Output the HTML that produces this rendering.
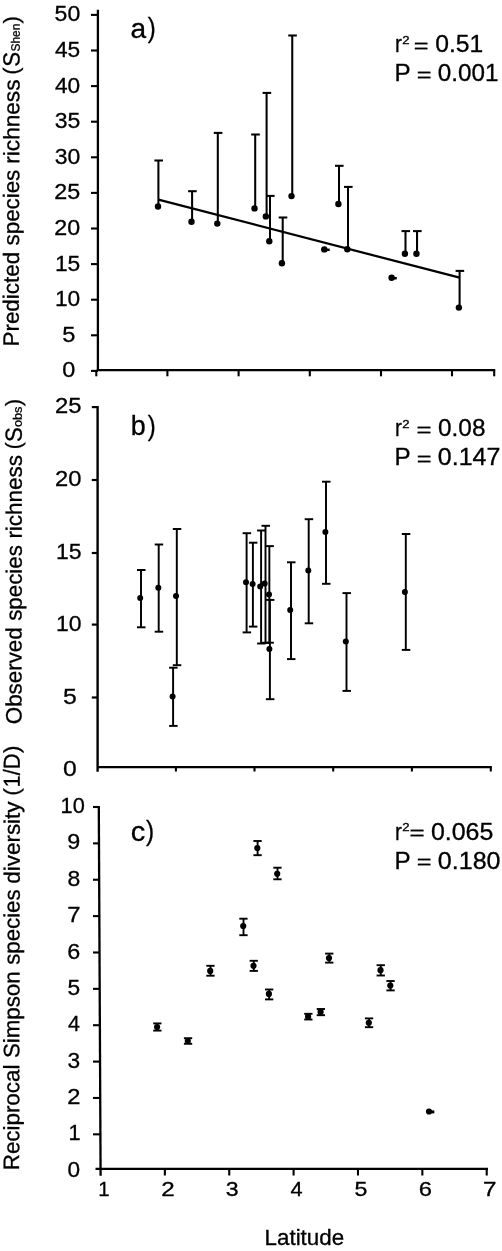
<!DOCTYPE html>
<html lang="en"><head><meta charset="utf-8"><title>Figure</title>
<style>
html,body{margin:0;padding:0;background:#fff;}
svg{display:block;filter:blur(0.45px);}
svg text{font-family:"Liberation Sans", sans-serif;fill:#000;stroke:#000;stroke-width:0.3px;}
svg line{stroke:#000;}
svg circle{fill:#000;}
</style></head><body>
<svg width="502" height="1251" viewBox="0 0 502 1251">
<rect x="0" y="0" width="502" height="1251" fill="#ffffff"/>
<line x1="97.90" y1="9.80" x2="97.90" y2="371.10" stroke-width="2.3"/>
<line x1="96.80" y1="370.10" x2="495.20" y2="370.10" stroke-width="2.2"/>
<line x1="91.00" y1="14.90" x2="97.90" y2="14.90" stroke-width="2.1"/>
<line x1="91.00" y1="50.50" x2="97.90" y2="50.50" stroke-width="2.1"/>
<line x1="91.00" y1="86.10" x2="97.90" y2="86.10" stroke-width="2.1"/>
<line x1="91.00" y1="121.70" x2="97.90" y2="121.70" stroke-width="2.1"/>
<line x1="91.00" y1="157.30" x2="97.90" y2="157.30" stroke-width="2.1"/>
<line x1="91.00" y1="192.90" x2="97.90" y2="192.90" stroke-width="2.1"/>
<line x1="91.00" y1="228.50" x2="97.90" y2="228.50" stroke-width="2.1"/>
<line x1="91.00" y1="264.10" x2="97.90" y2="264.10" stroke-width="2.1"/>
<line x1="91.00" y1="299.70" x2="97.90" y2="299.70" stroke-width="2.1"/>
<line x1="91.00" y1="335.30" x2="97.90" y2="335.30" stroke-width="2.1"/>
<line x1="91.00" y1="370.90" x2="97.90" y2="370.90" stroke-width="2.1"/>
<line x1="96.30" y1="370.10" x2="96.30" y2="376.30" stroke-width="2.1"/>
<line x1="167.40" y1="370.10" x2="167.40" y2="376.30" stroke-width="2.1"/>
<line x1="238.60" y1="370.10" x2="238.60" y2="376.30" stroke-width="2.1"/>
<line x1="309.80" y1="370.10" x2="309.80" y2="376.30" stroke-width="2.1"/>
<line x1="381.00" y1="370.10" x2="381.00" y2="376.30" stroke-width="2.1"/>
<line x1="452.00" y1="370.10" x2="452.00" y2="376.30" stroke-width="2.1"/>
<line x1="494.20" y1="370.10" x2="494.20" y2="376.30" stroke-width="2.1"/>
<text transform="translate(54.58,21.30) scale(1.0430,1.0000)" font-size="22.1">50</text>
<text transform="translate(54.99,56.90) scale(1.0281,1.0000)" font-size="22.1">45</text>
<text transform="translate(54.99,92.50) scale(1.0256,1.0000)" font-size="22.1">40</text>
<text transform="translate(54.64,128.10) scale(1.0430,1.0000)" font-size="22.1">35</text>
<text transform="translate(54.64,163.70) scale(1.0405,1.0000)" font-size="22.1">30</text>
<text transform="translate(54.33,199.30) scale(1.0558,1.0000)" font-size="22.1">25</text>
<text transform="translate(54.34,234.90) scale(1.0532,1.0000)" font-size="22.1">20</text>
<text transform="translate(54.89,270.50) scale(1.0323,1.0000)" font-size="22.1">15</text>
<text transform="translate(54.89,306.10) scale(1.0297,1.0000)" font-size="22.1">10</text>
<text transform="translate(62.26,341.70) scale(1.0669,1.0000)" font-size="22.1">5</text>
<text transform="translate(62.26,377.30) scale(1.0613,1.0000)" font-size="22.1">0</text>
<text transform="translate(130.61,37.50) scale(1.0071,1.0000)" font-size="27.9">a</text>
<text transform="translate(147.72,36.80) scale(0.8856,1.0000)" font-size="27.1">)</text>
<text transform="translate(394.90,52.20) scale(0.8927,1.0000)" font-size="23.3">r</text>
<text transform="translate(402.34,44.10) scale(1.1175,1.0000)" font-size="11.8">2</text>
<text transform="translate(413.83,52.70) scale(1.2371,1.0000)" font-size="20.5">=</text>
<text transform="translate(435.21,52.20) scale(1.0605,1.0000)" font-size="23.3">0.51</text>
<text transform="translate(394.50,81.20) scale(1.0397,1.0000)" font-size="23.3">P</text>
<text transform="translate(416.83,81.70) scale(1.2371,1.0000)" font-size="20.5">=</text>
<text transform="translate(437.83,81.20) scale(1.0432,1.0000)" font-size="23.3">0.001</text>
<line x1="158.40" y1="160.50" x2="158.40" y2="206.50" stroke-width="2.05"/>
<line x1="154.40" y1="160.50" x2="163.00" y2="160.50" stroke-width="2.05"/>
<circle cx="158.00" cy="206.50" r="3.2"/>
<line x1="192.10" y1="191.20" x2="192.10" y2="221.70" stroke-width="2.05"/>
<line x1="188.10" y1="191.20" x2="196.70" y2="191.20" stroke-width="2.05"/>
<circle cx="191.50" cy="221.70" r="3.2"/>
<line x1="217.80" y1="132.90" x2="217.80" y2="223.60" stroke-width="2.05"/>
<line x1="213.80" y1="132.90" x2="222.40" y2="132.90" stroke-width="2.05"/>
<circle cx="217.30" cy="223.60" r="3.2"/>
<line x1="255.20" y1="134.50" x2="255.20" y2="208.40" stroke-width="2.05"/>
<line x1="251.20" y1="134.50" x2="259.80" y2="134.50" stroke-width="2.05"/>
<circle cx="254.50" cy="208.40" r="3.2"/>
<line x1="266.60" y1="92.90" x2="266.60" y2="216.40" stroke-width="2.05"/>
<line x1="262.60" y1="92.90" x2="271.20" y2="92.90" stroke-width="2.05"/>
<circle cx="265.85" cy="216.40" r="3.2"/>
<line x1="270.00" y1="195.90" x2="270.00" y2="241.20" stroke-width="2.05"/>
<line x1="266.00" y1="195.90" x2="274.60" y2="195.90" stroke-width="2.05"/>
<circle cx="269.30" cy="241.20" r="3.2"/>
<line x1="282.70" y1="217.50" x2="282.70" y2="263.30" stroke-width="2.05"/>
<line x1="278.70" y1="217.50" x2="287.30" y2="217.50" stroke-width="2.05"/>
<circle cx="281.90" cy="263.30" r="3.2"/>
<line x1="292.25" y1="35.50" x2="292.25" y2="196.10" stroke-width="2.05"/>
<line x1="288.25" y1="35.50" x2="296.85" y2="35.50" stroke-width="2.05"/>
<circle cx="291.50" cy="196.10" r="3.2"/>
<line x1="339.00" y1="165.80" x2="339.00" y2="204.00" stroke-width="2.05"/>
<line x1="335.00" y1="165.80" x2="343.60" y2="165.80" stroke-width="2.05"/>
<circle cx="338.40" cy="204.00" r="3.2"/>
<line x1="348.00" y1="186.90" x2="348.00" y2="249.20" stroke-width="2.05"/>
<line x1="344.00" y1="186.90" x2="352.60" y2="186.90" stroke-width="2.05"/>
<circle cx="347.30" cy="249.20" r="3.2"/>
<line x1="405.50" y1="231.10" x2="405.50" y2="253.70" stroke-width="2.05"/>
<line x1="401.50" y1="231.10" x2="410.10" y2="231.10" stroke-width="2.05"/>
<circle cx="404.90" cy="253.70" r="3.2"/>
<line x1="417.05" y1="231.10" x2="417.05" y2="253.70" stroke-width="2.05"/>
<line x1="413.05" y1="231.10" x2="421.65" y2="231.10" stroke-width="2.05"/>
<circle cx="416.45" cy="253.70" r="3.2"/>
<line x1="459.60" y1="270.90" x2="459.60" y2="307.60" stroke-width="2.05"/>
<line x1="455.60" y1="270.90" x2="464.20" y2="270.90" stroke-width="2.05"/>
<circle cx="458.90" cy="307.60" r="3.2"/>
<circle cx="324.30" cy="249.40" r="3.2"/>
<line x1="321.50" y1="249.80" x2="329.70" y2="249.80" stroke-width="2.5"/>
<circle cx="391.60" cy="277.70" r="3.2"/>
<line x1="389.00" y1="278.20" x2="396.80" y2="278.20" stroke-width="2.5"/>
<line x1="158.40" y1="199.60" x2="459.60" y2="277.70" stroke-width="2.25"/>
<line x1="97.60" y1="405.90" x2="97.60" y2="771.70" stroke-width="2.4"/>
<line x1="97.60" y1="767.10" x2="491.80" y2="767.10" stroke-width="2.3"/>
<line x1="91.80" y1="407.10" x2="97.60" y2="407.10" stroke-width="2.2"/>
<line x1="91.80" y1="480.00" x2="97.60" y2="480.00" stroke-width="2.2"/>
<line x1="91.80" y1="553.00" x2="97.60" y2="553.00" stroke-width="2.2"/>
<line x1="91.80" y1="624.60" x2="97.60" y2="624.60" stroke-width="2.2"/>
<line x1="91.80" y1="697.50" x2="97.60" y2="697.50" stroke-width="2.2"/>
<line x1="175.90" y1="767.10" x2="175.90" y2="771.50" stroke-width="2.1"/>
<line x1="254.50" y1="767.10" x2="254.50" y2="771.50" stroke-width="2.1"/>
<line x1="333.20" y1="767.10" x2="333.20" y2="771.50" stroke-width="2.1"/>
<line x1="411.90" y1="767.10" x2="411.90" y2="771.50" stroke-width="2.1"/>
<line x1="490.80" y1="767.10" x2="490.80" y2="771.50" stroke-width="2.1"/>
<text transform="translate(55.11,413.30) scale(1.0731,1.0000)" font-size="22.2">25</text>
<text transform="translate(55.11,485.90) scale(1.0705,1.0000)" font-size="22.2">20</text>
<text transform="translate(55.97,558.50) scale(1.0367,1.0000)" font-size="22.2">15</text>
<text transform="translate(55.98,631.10) scale(1.0341,1.0000)" font-size="22.2">10</text>
<text transform="translate(63.01,703.70) scale(1.1190,1.0000)" font-size="22.2">5</text>
<text transform="translate(63.01,776.30) scale(1.1132,1.0000)" font-size="22.2">0</text>
<text transform="translate(130.65,435.40) scale(0.9849,1.0000)" font-size="27.3">b</text>
<text transform="translate(147.72,434.70) scale(0.8856,1.0000)" font-size="27.1">)</text>
<text transform="translate(394.90,436.10) scale(0.8927,1.0000)" font-size="23.3">r</text>
<text transform="translate(402.34,428.00) scale(1.1175,1.0000)" font-size="11.8">2</text>
<text transform="translate(416.61,436.60) scale(1.2572,1.0000)" font-size="20.5">=</text>
<text transform="translate(438.02,436.10) scale(1.0462,1.0000)" font-size="23.3">0.08</text>
<text transform="translate(394.50,465.30) scale(1.0397,1.0000)" font-size="23.3">P</text>
<text transform="translate(416.83,465.80) scale(1.2371,1.0000)" font-size="20.5">=</text>
<text transform="translate(437.80,465.30) scale(1.0727,1.0000)" font-size="23.3">0.147</text>
<line x1="141.00" y1="570.00" x2="141.00" y2="627.30" stroke-width="1.95"/>
<line x1="137.00" y1="570.00" x2="145.50" y2="570.00" stroke-width="1.95"/>
<line x1="137.00" y1="627.30" x2="145.50" y2="627.30" stroke-width="1.95"/>
<circle cx="140.20" cy="597.90" r="3.0"/>
<line x1="158.70" y1="544.50" x2="158.70" y2="631.70" stroke-width="1.95"/>
<line x1="154.70" y1="544.50" x2="163.20" y2="544.50" stroke-width="1.95"/>
<line x1="154.70" y1="631.70" x2="163.20" y2="631.70" stroke-width="1.95"/>
<circle cx="158.30" cy="587.80" r="3.0"/>
<line x1="176.80" y1="529.00" x2="176.80" y2="665.20" stroke-width="1.95"/>
<line x1="172.80" y1="529.00" x2="181.30" y2="529.00" stroke-width="1.95"/>
<line x1="172.80" y1="665.20" x2="181.30" y2="665.20" stroke-width="1.95"/>
<circle cx="176.00" cy="596.10" r="3.0"/>
<line x1="173.10" y1="667.70" x2="173.10" y2="725.90" stroke-width="1.95"/>
<line x1="169.10" y1="667.70" x2="177.60" y2="667.70" stroke-width="1.95"/>
<line x1="169.10" y1="725.90" x2="177.60" y2="725.90" stroke-width="1.95"/>
<circle cx="172.60" cy="696.50" r="3.0"/>
<line x1="246.60" y1="533.20" x2="246.60" y2="632.40" stroke-width="1.95"/>
<line x1="242.60" y1="533.20" x2="251.10" y2="533.20" stroke-width="1.95"/>
<line x1="242.60" y1="632.40" x2="251.10" y2="632.40" stroke-width="1.95"/>
<circle cx="246.00" cy="582.30" r="3.0"/>
<line x1="252.90" y1="542.70" x2="252.90" y2="626.60" stroke-width="1.95"/>
<line x1="248.90" y1="542.70" x2="257.40" y2="542.70" stroke-width="1.95"/>
<line x1="248.90" y1="626.60" x2="257.40" y2="626.60" stroke-width="1.95"/>
<circle cx="252.60" cy="584.10" r="3.0"/>
<line x1="261.10" y1="530.50" x2="261.10" y2="643.50" stroke-width="1.95"/>
<line x1="257.10" y1="530.50" x2="265.60" y2="530.50" stroke-width="1.95"/>
<line x1="257.10" y1="643.50" x2="265.60" y2="643.50" stroke-width="1.95"/>
<circle cx="260.20" cy="586.60" r="3.0"/>
<line x1="265.50" y1="525.80" x2="265.50" y2="642.80" stroke-width="1.95"/>
<line x1="261.50" y1="525.80" x2="270.00" y2="525.80" stroke-width="1.95"/>
<line x1="261.50" y1="642.80" x2="270.00" y2="642.80" stroke-width="1.95"/>
<circle cx="264.70" cy="583.40" r="3.0"/>
<line x1="269.35" y1="546.10" x2="269.35" y2="642.70" stroke-width="1.95"/>
<line x1="265.35" y1="546.10" x2="273.85" y2="546.10" stroke-width="1.95"/>
<line x1="265.35" y1="642.70" x2="273.85" y2="642.70" stroke-width="1.95"/>
<circle cx="269.00" cy="594.40" r="3.0"/>
<line x1="269.90" y1="599.90" x2="269.90" y2="699.20" stroke-width="1.95"/>
<line x1="265.90" y1="599.90" x2="274.40" y2="599.90" stroke-width="1.95"/>
<line x1="265.90" y1="699.20" x2="274.40" y2="699.20" stroke-width="1.95"/>
<circle cx="269.40" cy="649.10" r="3.0"/>
<line x1="291.00" y1="562.30" x2="291.00" y2="659.10" stroke-width="1.95"/>
<line x1="287.00" y1="562.30" x2="295.50" y2="562.30" stroke-width="1.95"/>
<line x1="287.00" y1="659.10" x2="295.50" y2="659.10" stroke-width="1.95"/>
<circle cx="290.20" cy="609.90" r="3.0"/>
<line x1="308.70" y1="519.20" x2="308.70" y2="623.30" stroke-width="1.95"/>
<line x1="304.70" y1="519.20" x2="313.20" y2="519.20" stroke-width="1.95"/>
<line x1="304.70" y1="623.30" x2="313.20" y2="623.30" stroke-width="1.95"/>
<circle cx="308.30" cy="570.40" r="3.0"/>
<line x1="326.00" y1="481.70" x2="326.00" y2="583.80" stroke-width="1.95"/>
<line x1="322.00" y1="481.70" x2="330.50" y2="481.70" stroke-width="1.95"/>
<line x1="322.00" y1="583.80" x2="330.50" y2="583.80" stroke-width="1.95"/>
<circle cx="325.40" cy="531.90" r="3.0"/>
<line x1="346.50" y1="593.10" x2="346.50" y2="690.90" stroke-width="1.95"/>
<line x1="342.50" y1="593.10" x2="351.00" y2="593.10" stroke-width="1.95"/>
<line x1="342.50" y1="690.90" x2="351.00" y2="690.90" stroke-width="1.95"/>
<circle cx="345.80" cy="641.55" r="3.0"/>
<line x1="405.80" y1="534.00" x2="405.80" y2="649.90" stroke-width="1.95"/>
<line x1="401.80" y1="534.00" x2="410.30" y2="534.00" stroke-width="1.95"/>
<line x1="401.80" y1="649.90" x2="410.30" y2="649.90" stroke-width="1.95"/>
<circle cx="404.90" cy="591.90" r="3.0"/>
<line x1="98.80" y1="805.90" x2="100.60" y2="1175.70" stroke-width="2.3"/>
<line x1="95.50" y1="1168.90" x2="488.00" y2="1168.90" stroke-width="2.2"/>
<line x1="93.00" y1="807.00" x2="98.81" y2="807.00" stroke-width="2.1"/>
<line x1="93.00" y1="843.37" x2="98.98" y2="843.37" stroke-width="2.1"/>
<line x1="93.00" y1="879.74" x2="99.16" y2="879.74" stroke-width="2.1"/>
<line x1="93.00" y1="916.11" x2="99.34" y2="916.11" stroke-width="2.1"/>
<line x1="93.00" y1="952.48" x2="99.51" y2="952.48" stroke-width="2.1"/>
<line x1="93.00" y1="988.85" x2="99.69" y2="988.85" stroke-width="2.1"/>
<line x1="93.00" y1="1025.22" x2="99.87" y2="1025.22" stroke-width="2.1"/>
<line x1="93.00" y1="1061.59" x2="100.04" y2="1061.59" stroke-width="2.1"/>
<line x1="93.00" y1="1097.96" x2="100.22" y2="1097.96" stroke-width="2.1"/>
<line x1="93.00" y1="1134.33" x2="100.40" y2="1134.33" stroke-width="2.1"/>
<line x1="164.87" y1="1168.90" x2="164.87" y2="1175.50" stroke-width="2.1"/>
<line x1="229.24" y1="1168.90" x2="229.24" y2="1175.50" stroke-width="2.1"/>
<line x1="293.61" y1="1168.90" x2="293.61" y2="1175.50" stroke-width="2.1"/>
<line x1="357.98" y1="1168.90" x2="357.98" y2="1175.50" stroke-width="2.1"/>
<line x1="422.35" y1="1168.90" x2="422.35" y2="1175.50" stroke-width="2.1"/>
<line x1="486.72" y1="1168.90" x2="486.72" y2="1175.50" stroke-width="2.1"/>
<text transform="translate(60.57,813.10) scale(1.0025,1.0000)" font-size="21.7">10</text>
<text transform="translate(67.29,849.47) scale(1.0761,1.0000)" font-size="21.7">9</text>
<text transform="translate(67.42,885.84) scale(1.0589,1.0000)" font-size="21.7">8</text>
<text transform="translate(67.15,922.21) scale(1.0999,1.0000)" font-size="21.7">7</text>
<text transform="translate(67.23,958.58) scale(1.0761,1.0000)" font-size="21.7">6</text>
<text transform="translate(67.49,994.95) scale(1.0478,1.0000)" font-size="21.7">5</text>
<text transform="translate(67.92,1031.32) scale(0.9855,1.0000)" font-size="21.7">4</text>
<text transform="translate(67.55,1067.69) scale(1.0478,1.0000)" font-size="21.7">3</text>
<text transform="translate(67.21,1104.06) scale(1.0938,1.0000)" font-size="21.7">2</text>
<text transform="translate(68.57,1140.43) scale(1.0016,1.0000)" font-size="21.7">1</text>
<text transform="translate(67.50,1176.80) scale(1.0423,1.0000)" font-size="21.7">0</text>
<text transform="translate(98.17,1195.70) scale(0.9782,1.0000)" font-size="20.8">1</text>
<text transform="translate(161.16,1195.70) scale(1.1623,1.0000)" font-size="20.8">2</text>
<text transform="translate(225.87,1195.70) scale(1.1134,1.0000)" font-size="20.8">3</text>
<text transform="translate(290.62,1195.70) scale(1.0472,1.0000)" font-size="20.8">4</text>
<text transform="translate(354.55,1195.70) scale(1.1134,1.0000)" font-size="20.8">5</text>
<text transform="translate(418.66,1195.70) scale(1.1435,1.0000)" font-size="20.8">6</text>
<text transform="translate(482.94,1195.70) scale(1.1687,1.0000)" font-size="20.8">7</text>
<text transform="translate(130.76,840.90) scale(1.0419,1.0000)" font-size="27.9">c</text>
<text transform="translate(146.12,840.20) scale(0.8997,1.0000)" font-size="27.1">)</text>
<text transform="translate(394.90,839.50) scale(0.8927,1.0000)" font-size="23.3">r</text>
<text transform="translate(402.34,831.40) scale(1.1175,1.0000)" font-size="11.8">2</text>
<text transform="translate(409.40,840.00) scale(1.2673,1.0000)" font-size="20.5">=</text>
<text transform="translate(430.90,839.50) scale(1.0719,1.0000)" font-size="23.3">0.065</text>
<text transform="translate(394.50,868.50) scale(1.0397,1.0000)" font-size="23.3">P</text>
<text transform="translate(416.83,869.00) scale(1.2371,1.0000)" font-size="20.5">=</text>
<text transform="translate(437.80,868.50) scale(1.0761,1.0000)" font-size="23.3">0.180</text>
<text transform="translate(264.55,1245.20) scale(1.0554,1.0000)" font-size="21.2">Latitude</text>
<line x1="157.40" y1="1023.40" x2="157.40" y2="1030.60" stroke-width="1.9"/>
<line x1="153.20" y1="1023.40" x2="161.50" y2="1023.40" stroke-width="1.9"/>
<line x1="153.20" y1="1030.60" x2="161.50" y2="1030.60" stroke-width="1.9"/>
<circle cx="157.10" cy="1027.00" r="3.1"/>
<line x1="188.10" y1="1038.20" x2="188.10" y2="1043.80" stroke-width="1.9"/>
<line x1="183.90" y1="1038.20" x2="192.20" y2="1038.20" stroke-width="1.9"/>
<line x1="183.90" y1="1043.80" x2="192.20" y2="1043.80" stroke-width="1.9"/>
<circle cx="187.80" cy="1041.00" r="3.1"/>
<line x1="210.50" y1="965.80" x2="210.50" y2="975.70" stroke-width="1.9"/>
<line x1="206.30" y1="965.80" x2="214.60" y2="965.80" stroke-width="1.9"/>
<line x1="206.30" y1="975.70" x2="214.60" y2="975.70" stroke-width="1.9"/>
<circle cx="210.20" cy="970.90" r="3.1"/>
<line x1="243.50" y1="918.70" x2="243.50" y2="935.20" stroke-width="1.9"/>
<line x1="239.30" y1="918.70" x2="247.60" y2="918.70" stroke-width="1.9"/>
<line x1="239.30" y1="935.20" x2="247.60" y2="935.20" stroke-width="1.9"/>
<circle cx="243.20" cy="926.00" r="3.1"/>
<line x1="257.60" y1="841.00" x2="257.60" y2="855.20" stroke-width="1.9"/>
<line x1="253.40" y1="841.00" x2="261.70" y2="841.00" stroke-width="1.9"/>
<line x1="253.40" y1="855.20" x2="261.70" y2="855.20" stroke-width="1.9"/>
<circle cx="257.30" cy="848.00" r="3.1"/>
<line x1="277.50" y1="867.70" x2="277.50" y2="879.30" stroke-width="1.9"/>
<line x1="273.30" y1="867.70" x2="281.60" y2="867.70" stroke-width="1.9"/>
<line x1="273.30" y1="879.30" x2="281.60" y2="879.30" stroke-width="1.9"/>
<circle cx="277.20" cy="873.80" r="3.1"/>
<line x1="253.80" y1="960.80" x2="253.80" y2="970.90" stroke-width="1.9"/>
<line x1="249.60" y1="960.80" x2="257.90" y2="960.80" stroke-width="1.9"/>
<line x1="249.60" y1="970.90" x2="257.90" y2="970.90" stroke-width="1.9"/>
<circle cx="253.50" cy="965.80" r="3.1"/>
<line x1="269.20" y1="989.50" x2="269.20" y2="999.40" stroke-width="1.9"/>
<line x1="265.00" y1="989.50" x2="273.30" y2="989.50" stroke-width="1.9"/>
<line x1="265.00" y1="999.40" x2="273.30" y2="999.40" stroke-width="1.9"/>
<circle cx="268.90" cy="993.90" r="3.1"/>
<line x1="329.30" y1="953.60" x2="329.30" y2="962.60" stroke-width="1.9"/>
<line x1="325.10" y1="953.60" x2="333.40" y2="953.60" stroke-width="1.9"/>
<line x1="325.10" y1="962.60" x2="333.40" y2="962.60" stroke-width="1.9"/>
<circle cx="329.00" cy="958.00" r="3.1"/>
<line x1="380.80" y1="965.20" x2="380.80" y2="975.50" stroke-width="1.9"/>
<line x1="376.60" y1="965.20" x2="384.90" y2="965.20" stroke-width="1.9"/>
<line x1="376.60" y1="975.50" x2="384.90" y2="975.50" stroke-width="1.9"/>
<circle cx="380.50" cy="970.20" r="3.1"/>
<line x1="390.60" y1="981.00" x2="390.60" y2="990.40" stroke-width="1.9"/>
<line x1="386.40" y1="981.00" x2="394.70" y2="981.00" stroke-width="1.9"/>
<line x1="386.40" y1="990.40" x2="394.70" y2="990.40" stroke-width="1.9"/>
<circle cx="390.30" cy="985.60" r="3.1"/>
<line x1="308.40" y1="1013.80" x2="308.40" y2="1019.50" stroke-width="1.9"/>
<line x1="304.20" y1="1013.80" x2="312.50" y2="1013.80" stroke-width="1.9"/>
<line x1="304.20" y1="1019.50" x2="312.50" y2="1019.50" stroke-width="1.9"/>
<circle cx="308.10" cy="1016.70" r="3.1"/>
<line x1="320.90" y1="1009.00" x2="320.90" y2="1015.20" stroke-width="1.9"/>
<line x1="316.70" y1="1009.00" x2="325.00" y2="1009.00" stroke-width="1.9"/>
<line x1="316.70" y1="1015.20" x2="325.00" y2="1015.20" stroke-width="1.9"/>
<circle cx="320.60" cy="1011.90" r="3.1"/>
<line x1="369.10" y1="1018.40" x2="369.10" y2="1027.20" stroke-width="1.9"/>
<line x1="364.90" y1="1018.40" x2="373.20" y2="1018.40" stroke-width="1.9"/>
<line x1="364.90" y1="1027.20" x2="373.20" y2="1027.20" stroke-width="1.9"/>
<circle cx="368.80" cy="1022.80" r="3.1"/>
<circle cx="429.00" cy="1111.50" r="3.1"/>
<line x1="427.00" y1="1111.90" x2="434.30" y2="1111.90" stroke-width="3.0"/>
<text transform="translate(18.64,346.45) rotate(-89.828) scale(1.0041,1.0000)" font-size="22.3">Predicted</text>
<text transform="translate(18.95,245.41) rotate(-89.828) scale(1.0013,1.0000)" font-size="22.3">species</text>
<text transform="translate(19.19,163.73) rotate(-89.828) scale(1.0145,1.0000)" font-size="22.3">richness</text>
<text transform="translate(18.56,74.51) rotate(-89.828) scale(0.9655,1.0000)" font-size="21.7">(</text>
<text transform="translate(19.48,66.70) rotate(-89.828) scale(0.9513,1.0000)" font-size="23.4">S</text>
<text transform="translate(19.63,51.54) rotate(-89.828) scale(0.9720,1.0000)" font-size="12.3">Shen</text>
<text transform="translate(18.71,23.57) rotate(-89.828) scale(1.0358,1.0000)" font-size="21.7">)</text>
<text transform="translate(21.55,724.26) rotate(-89.960) scale(1.0041,1.0000)" font-size="22.3">Observed</text>
<text transform="translate(21.62,620.81) rotate(-89.960) scale(1.0000,1.0000)" font-size="22.3">species</text>
<text transform="translate(21.68,538.62) rotate(-89.960) scale(1.0083,1.0000)" font-size="22.3">richness</text>
<text transform="translate(20.84,449.31) rotate(-89.960) scale(0.9655,1.0000)" font-size="21.7">(</text>
<text transform="translate(21.75,442.00) rotate(-89.960) scale(0.9513,1.0000)" font-size="23.4">S</text>
<text transform="translate(21.86,427.04) rotate(-89.960) scale(1.0328,1.0000)" font-size="12.3">obs</text>
<text transform="translate(20.87,406.17) rotate(-89.960) scale(1.0358,1.0000)" font-size="21.7">)</text>
<text transform="translate(19.10,1170.24) rotate(-89.885) scale(1.0027,1.0000)" font-size="22.3">Reciprocal</text>
<text transform="translate(19.32,1058.10) rotate(-89.885) scale(1.0001,1.0000)" font-size="22.3">Simpson</text>
<text transform="translate(19.51,964.81) rotate(-89.885) scale(0.9973,1.0000)" font-size="22.3">species</text>
<text transform="translate(19.67,883.65) rotate(-89.885) scale(1.0052,1.0000)" font-size="22.3">diversity</text>
<text transform="translate(18.95,795.70) rotate(-89.885) scale(1.0358,1.0000)" font-size="21.7">(</text>
<text transform="translate(19.66,787.54) rotate(-89.885) scale(0.9432,1.0000)" font-size="23.2">1/D</text>
<text transform="translate(19.03,753.07) rotate(-89.885) scale(1.0182,1.0000)" font-size="21.7">)</text>
</svg>
</body></html>
